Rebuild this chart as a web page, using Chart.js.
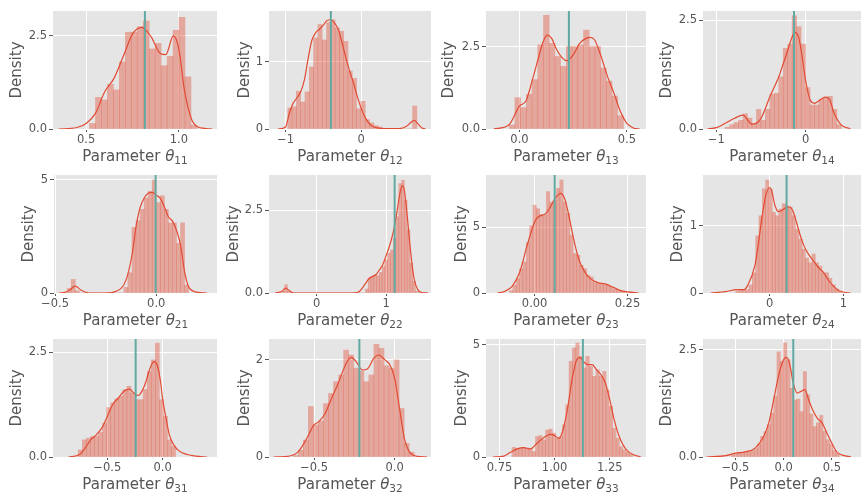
<!DOCTYPE html>
<html>
<head>
<meta charset="utf-8">
<script src="https://cdn.jsdelivr.net/npm/chart.js@4.4.0/dist/chart.umd.min.js"></script>
<style>
  html, body { margin: 0; padding: 0; background: #fff; overflow: hidden; }
  #wrap { position: relative; width: 863px; height: 492px; }
  canvas { position: absolute; }
</style>
</head>
<body>
<div id="wrap"></div>
<script>
// ---- data (bins = [first edge, width]) ----
const xRange11 = [0.321, 1.206], yMax11 = 3.17, truth11 = 0.817;
const bins11 = [0.518, 0.0322];
const hist11 = [0.15, 0.85, 0.78, 1.2, 1.05, 1.8, 2.6, 2.6, 2.75, 2.9, 2.15, 2.3, 1.7, 1.95, 2.65, 3.0, 1.4, 0.1];
const kdeX11 = [0.35, 0.45, 0.5, 0.55, 0.6, 0.65, 0.7, 0.75, 0.8, 0.85, 0.9, 0.93, 0.97, 1.0, 1.03, 1.07, 1.1, 1.15, 1.18];
const kdeY11 = [0, 0.04, 0.15, 0.42, 1.0, 1.36, 1.95, 2.55, 2.73, 2.48, 2.03, 2.0, 2.5, 2.15, 1.05, 0.24, 0.06, 0.01, 0];
const xTicks11 = [0.5, 1.0], xTickLabels11 = ['0.5', '1.0'];
const yTicks11 = [0, 2.5], yTickLabels11 = ['0.0', '2.5'];

const xRange12 = [-1.218, 0.924], yMax12 = 1.75, truth12 = -0.4;
const bins12 = [-0.97, 0.0569];
const hist12 = [0.31, 0.33, 0.56, 0.40, 0.55, 0.92, 1.35, 1.55, 1.32, 1.58, 1.62, 1.50, 1.45, 1.30, 0.86, 0.75, 0.30, 0.41, 0.14, 0.09, 0.05, 0.03, 0, 0, 0, 0, 0, 0, 0, 0.34];
const kdeX12 = [-1.1, -1.0, -0.95, -0.9, -0.85, -0.8, -0.75, -0.7, -0.65, -0.6, -0.55, -0.5, -0.45, -0.4, -0.35, -0.3, -0.25, -0.2, -0.15, -0.1, -0.05, 0, 0.05, 0.1, 0.15, 0.2, 0.3, 0.5, 0.6, 0.65, 0.7, 0.75, 0.8, 0.85];
const kdeY12 = [0, 0.03, 0.23, 0.38, 0.46, 0.55, 0.73, 1.05, 1.32, 1.43, 1.48, 1.54, 1.61, 1.62, 1.57, 1.47, 1.27, 1.05, 0.85, 0.68, 0.48, 0.31, 0.18, 0.09, 0.04, 0.02, 0.005, 0.005, 0.04, 0.09, 0.13, 0.08, 0.02, 0];
const xTicks12 = [-1, 0], xTickLabels12 = ['\u22121', '0'];
const yTicks12 = [0, 1], yTickLabels12 = ['0', '1'];

const xRange13 = [-0.156, 0.589], yMax13 = 3.58, truth13 = 0.23;
const bins13 = [-0.048, 0.0266];
const hist13 = [0.12, 0.95, 0.65, 1.05, 1.5, 2.55, 3.45, 2.6, 2.2, 1.9, 2.5, 2.5, 2.55, 3.0, 2.5, 2.5, 1.85, 1.45, 1.0, 0.4];
const kdeX13 = [-0.12, -0.05, 0, 0.03, 0.06, 0.09, 0.11, 0.13, 0.15, 0.17, 0.2, 0.22, 0.25, 0.28, 0.31, 0.33, 0.35, 0.38, 0.41, 0.44, 0.47, 0.5, 0.53, 0.56];
const kdeY13 = [0, 0.12, 0.7, 0.85, 1.49, 2.2, 2.65, 2.85, 2.75, 2.45, 2.15, 2.07, 2.25, 2.6, 2.75, 2.78, 2.7, 2.2, 1.59, 1.08, 0.53, 0.17, 0.03, 0];
const xTicks13 = [0, 0.5], xTickLabels13 = ['0.0', '0.5'];
const yTicks13 = [0, 2.5], yTickLabels13 = ['0.0', '2.5'];

const xRange14 = [-1.148, 0.62], yMax14 = 2.71, truth14 = -0.13;
const bins14 = [-0.9, 0.05];
const hist14 = [0.04, 0.10, 0.15, 0.20, 0.35, 0.25, 0.12, 0.45, 0.20, 0.45, 0.80, 0.82, 1.20, 1.85, 1.95, 2.60, 2.35, 1.95, 0.95, 0.55, 0.55, 0.68, 0.72, 0.75, 0.45, 0.10];
const kdeX14 = [-1.1, -1.0, -0.9, -0.8, -0.7, -0.6, -0.5, -0.4, -0.3, -0.25, -0.2, -0.15, -0.12, -0.08, -0.05, 0, 0.05, 0.1, 0.15, 0.22, 0.27, 0.32, 0.4, 0.5];
const kdeY14 = [0, 0.03, 0.13, 0.24, 0.32, 0.11, 0.24, 0.74, 1.2, 1.5, 1.81, 2.12, 2.22, 2.12, 1.81, 1.12, 0.67, 0.59, 0.65, 0.73, 0.67, 0.36, 0.09, 0.01];
const xTicks14 = [-1, 0], xTickLabels14 = ['\u22121', '0'];
const yTicks14 = [0, 2.5], yTickLabels14 = ['0.0', '2.5'];

const xRange21 = [-0.505, 0.30], yMax21 = 5.22, truth21 = -0.003;
const bins21 = [-0.44, 0.02];
const hist21 = [0.2, 0.6, 0.1, 0, 0, 0, 0, 0, 0, 0, 0, 0, 0, 0, 0.25, 0.9, 2.9, 3.2, 3.7, 4.2, 4.5, 5.0, 4.0, 4.3, 3.7, 3.1, 3.1, 2.2, 3.1, 0.35];
const kdeX21 = [-0.48, -0.45, -0.43, -0.4, -0.37, -0.33, -0.25, -0.2, -0.15, -0.12, -0.1, -0.08, -0.06, -0.04, -0.02, 0, 0.02, 0.04, 0.06, 0.08, 0.1, 0.12, 0.14, 0.16, 0.2, 0.25];
const kdeY21 = [0, 0.03, 0.12, 0.3, 0.12, 0, 0, 0.07, 0.56, 1.67, 2.93, 3.77, 4.19, 4.41, 4.45, 4.33, 4.19, 3.82, 3.37, 3.18, 2.78, 2.12, 0.93, 0.27, 0.04, 0];
const xTicks21 = [-0.5, 0], xTickLabels21 = ['\u22120.5', '0.0'];
const yTicks21 = [0, 5], yTickLabels21 = ['0', '5'];

const xRange22 = [-0.686, 1.643], yMax22 = 3.56, truth22 = 1.12;
const bins22 = [-0.5, 0.04];
const hist22 = [0.05, 0.25, 0.05, 0, 0, 0, 0, 0, 0, 0, 0, 0, 0, 0, 0, 0, 0, 0, 0, 0, 0, 0, 0, 0, 0, 0, 0, 0, 0, 0,
  0.12, 0.45, 0.5, 0.55, 0.52, 0.62, 0.8, 1.0, 1.2, 1.3, 1.65, 2.3, 3.3, 3.4, 2.8, 1.9, 0.9, 0.35, 0.05];
const kdeX22 = [-0.6, -0.5, -0.45, -0.4, -0.33, 0.5, 0.6, 0.7, 0.75, 0.8, 0.85, 0.9, 0.95, 1.0, 1.05, 1.1, 1.15, 1.2, 1.23, 1.26, 1.3, 1.35, 1.4, 1.45, 1.5, 1.6];
const kdeY22 = [0, 0.05, 0.15, 0.08, 0, 0, 0.03, 0.28, 0.43, 0.5, 0.55, 0.69, 0.86, 1.14, 1.44, 1.84, 2.4, 3.05, 3.24, 3.1, 2.35, 1.24, 0.43, 0.11, 0.02, 0];
const xTicks22 = [0, 1], xTickLabels22 = ['0', '1'];
const yTicks22 = [0, 2.5], yTickLabels22 = ['0.0', '2.5'];

const xRange23 = [-0.131, 0.30], yMax23 = 8.96, truth23 = 0.054;
const bins23 = [-0.0677, 0.00903];
const hist23 = [0.18, 0.6, 1.1, 1.85, 2.36, 3.83, 5.1, 6.67, 6.4, 5.96, 5.9, 7.7, 6.9, 7.05, 7.95, 8.58, 6.9, 6.04, 4.39, 3.0, 2.87, 2.1, 1.85, 1.35, 1.22, 0.84, 0.71, 0.71, 0.63, 0.58, 0.46, 0.28, 0.2, 0.13, 0.08];
const kdeX23 = [-0.1, -0.08, -0.06, -0.04, -0.02, 0, 0.01, 0.02, 0.03, 0.04, 0.05, 0.06, 0.07, 0.08, 0.09, 0.1, 0.11, 0.12, 0.13, 0.14, 0.15, 0.17, 0.19, 0.21, 0.23, 0.25, 0.28];
const kdeY23 = [0, 0.13, 0.53, 1.6, 3.63, 5.4, 5.79, 5.91, 6.04, 6.42, 6.93, 7.36, 7.56, 7.23, 6.17, 4.77, 3.5, 2.49, 1.85, 1.4, 1.09, 0.79, 0.69, 0.46, 0.2, 0.08, 0];
const xTicks23 = [0, 0.25], xTickLabels23 = ['0.00', '0.25'];
const yTicks23 = [0, 5], yTickLabels23 = ['0', '5'];

const xRange24 = [-0.905, 1.24], yMax24 = 1.756, truth24 = 0.23;
const bins24 = [-0.46, 0.045];
const hist24 = [0.03, 0.04, 0.05, 0.05, 0.12, 0.3, 0.85, 1.15, 1.55, 1.68, 1.55, 1.2, 1.15, 1.25, 1.33, 1.3, 1.28, 1.15, 0.95, 0.8, 0.65, 0.52, 0.45, 0.58, 0.45, 0.4, 0.3, 0.3, 0.22, 0.12, 0.06, 0.02];
const kdeX24 = [-0.8, -0.6, -0.45, -0.35, -0.3, -0.2, -0.15, -0.1, -0.05, 0, 0.03, 0.07, 0.12, 0.17, 0.22, 0.27, 0.32, 0.37, 0.42, 0.47, 0.52, 0.57, 0.62, 0.67, 0.72, 0.77, 0.82, 0.87, 0.92, 1.0, 1.1];
const kdeY24 = [0, 0.02, 0.05, 0.05, 0.11, 0.41, 0.76, 1.16, 1.46, 1.57, 1.51, 1.31, 1.21, 1.23, 1.27, 1.28, 1.21, 1.03, 0.84, 0.69, 0.59, 0.51, 0.44, 0.37, 0.32, 0.24, 0.16, 0.1, 0.05, 0.015, 0];
const xTicks24 = [0, 1], xTickLabels24 = ['0', '1'];
const yTicks24 = [0, 1], yTickLabels24 = ['0', '1'];

const xRange31 = [-0.99, 0.49], yMax31 = 2.82, truth31 = -0.244;
const bins31 = [-0.762, 0.0366];
const hist31 = [0.17, 0.41, 0.45, 0.49, 0.5, 0.59, 0.81, 1.18, 1.29, 1.39, 1.45, 1.61, 1.69, 1.53, 1.37, 1.37, 1.61, 2.04, 2.32, 2.72, 1.37, 0.97, 0.41, 0.25];
const kdeX31 = [-0.85, -0.75, -0.7, -0.65, -0.6, -0.55, -0.5, -0.45, -0.4, -0.35, -0.3, -0.25, -0.22, -0.18, -0.15, -0.12, -0.08, -0.05, -0.02, 0, 0.03, 0.06, 0.1, 0.15, 0.22, 0.3, 0.4];
const kdeY31 = [0, 0.06, 0.21, 0.41, 0.53, 0.69, 0.97, 1.26, 1.41, 1.57, 1.62, 1.5, 1.47, 1.61, 1.81, 2.08, 2.28, 2.2, 1.81, 1.37, 0.93, 0.53, 0.29, 0.14, 0.06, 0.02, 0];
const xTicks31 = [-0.5, 0], xTickLabels31 = ['\u22120.5', '0.0'];
const yTicks31 = [0, 2.5], yTickLabels31 = ['0.0', '2.5'];

const xRange32 = [-0.779, 0.225], yMax32 = 2.43, truth32 = -0.219;
const bins32 = [-0.629, 0.03125];
const hist32 = [0.03, 0.14, 0.35, 1.04, 0.66, 0.74, 1.1, 1.31, 1.55, 1.69, 2.2, 2.1, 1.83, 1.76, 1.55, 1.69, 2.32, 2.24, 1.88, 1.83, 2.0, 1.0, 0.28, 0.1];
const kdeX32 = [-0.75, -0.65, -0.6, -0.55, -0.5, -0.47, -0.43, -0.4, -0.35, -0.3, -0.27, -0.24, -0.2, -0.17, -0.13, -0.1, -0.06, -0.03, 0, 0.03, 0.06, 0.09, 0.13, 0.2];
const kdeY32 = [0, 0.02, 0.1, 0.35, 0.66, 0.73, 0.9, 1.14, 1.52, 1.93, 2.05, 1.97, 1.79, 1.81, 2.03, 2.1, 2.0, 1.9, 1.62, 1.0, 0.38, 0.11, 0.02, 0];
const xTicks32 = [-0.5, 0], xTickLabels32 = ['\u22120.5', '0.0'];
const yTicks32 = [0, 2], yTickLabels32 = ['0', '2'];

const xRange33 = [0.689, 1.414], yMax33 = 5.25, truth33 = 1.128;
const bins33 = [0.807, 0.0152];
const hist33 = [0.43, 0.39, 0.39, 0.42, 0.39, 0.39, 0.24, 0.91, 0.95, 0.76, 1.2, 1.24, 1.06, 0.83, 0.91, 1.43, 2.32, 4.26, 4.85, 5.07, 4.48, 3.96, 4.48, 4.03, 3.59, 3.88, 3.59, 3.81, 2.99, 2.25, 1.28, 0.83, 0.46, 0.31, 0.21, 0.12];
const kdeX33 = [0.72, 0.77, 0.8, 0.83, 0.86, 0.89, 0.92, 0.95, 0.98, 1.0, 1.02, 1.04, 1.06, 1.08, 1.1, 1.115, 1.13, 1.15, 1.17, 1.19, 1.21, 1.23, 1.25, 1.27, 1.29, 1.31, 1.33, 1.36, 1.39];
const kdeY33 = [0, 0.04, 0.21, 0.36, 0.42, 0.36, 0.61, 0.86, 1.01, 0.95, 0.83, 1.28, 2.25, 3.51, 4.33, 4.43, 4.26, 4.11, 4.11, 3.88, 3.66, 3.29, 2.54, 1.65, 0.98, 0.54, 0.27, 0.09, 0.01];
const xTicks33 = [0.75, 1.0, 1.25], xTickLabels33 = ['0.75', '1.00', '1.25'];
const yTicks33 = [0, 5], yTickLabels33 = ['0', '5'];

const xRange34 = [-0.836, 0.802], yMax34 = 2.75, truth34 = 0.10;
const bins34 = [-0.545, 0.034];
const hist34 = [0.05, 0.08, 0.1, 0.1, 0.12, 0.14, 0.15, 0.2, 0.3, 0.48, 0.59, 0.75, 1.02, 1.41, 2.45, 2.23, 2.66, 2.27, 1.6, 1.33, 1.35, 1.06, 1.99, 1.45, 1.0, 0.71, 0.8, 0.97, 0.6, 0.4, 0.3, 0.15, 0.08];
const kdeX34 = [-0.8, -0.6, -0.5, -0.4, -0.3, -0.2, -0.15, -0.1, -0.05, 0, 0.03, 0.06, 0.1, 0.14, 0.18, 0.22, 0.26, 0.3, 0.35, 0.4, 0.45, 0.5, 0.55, 0.6, 0.7];
const kdeY34 = [0, 0.03, 0.09, 0.12, 0.2, 0.51, 0.83, 1.37, 1.92, 2.27, 2.32, 2.19, 1.72, 1.49, 1.53, 1.57, 1.33, 1.1, 0.9, 0.79, 0.55, 0.32, 0.12, 0.05, 0];
const xTicks34 = [-0.5, 0, 0.5], xTickLabels34 = ['\u22120.5', '0.0', '0.5'];
const yTicks34 = [0, 2.5], yTickLabels34 = ['0.0', '2.5'];

// ---- panel grid (pixel frame of each plot area) ----
const cellLeft = [0, 215, 430, 645];
const plotLeft = [[53, 269, 486, 703], [54, 269, 486, 703], [53, 269, 486, 703]];
const plotRight = [217, 431, 646, 861];
const plotTop = [11, 175, 339];
const plotBottom = [129, 293, 457];
const densityX = [[17, 245, 449, 667], [29, 234, 462, 678], [17, 245, 462, 667]];

const panels = [
  ['11', xRange11, yMax11, truth11, bins11, hist11, kdeX11, kdeY11, xTicks11, xTickLabels11, yTicks11, yTickLabels11],
  ['12', xRange12, yMax12, truth12, bins12, hist12, kdeX12, kdeY12, xTicks12, xTickLabels12, yTicks12, yTickLabels12],
  ['13', xRange13, yMax13, truth13, bins13, hist13, kdeX13, kdeY13, xTicks13, xTickLabels13, yTicks13, yTickLabels13],
  ['14', xRange14, yMax14, truth14, bins14, hist14, kdeX14, kdeY14, xTicks14, xTickLabels14, yTicks14, yTickLabels14],
  ['21', xRange21, yMax21, truth21, bins21, hist21, kdeX21, kdeY21, xTicks21, xTickLabels21, yTicks21, yTickLabels21],
  ['22', xRange22, yMax22, truth22, bins22, hist22, kdeX22, kdeY22, xTicks22, xTickLabels22, yTicks22, yTickLabels22],
  ['23', xRange23, yMax23, truth23, bins23, hist23, kdeX23, kdeY23, xTicks23, xTickLabels23, yTicks23, yTickLabels23],
  ['24', xRange24, yMax24, truth24, bins24, hist24, kdeX24, kdeY24, xTicks24, xTickLabels24, yTicks24, yTickLabels24],
  ['31', xRange31, yMax31, truth31, bins31, hist31, kdeX31, kdeY31, xTicks31, xTickLabels31, yTicks31, yTickLabels31],
  ['32', xRange32, yMax32, truth32, bins32, hist32, kdeX32, kdeY32, xTicks32, xTickLabels32, yTicks32, yTickLabels32],
  ['33', xRange33, yMax33, truth33, bins33, hist33, kdeX33, kdeY33, xTicks33, xTickLabels33, yTicks33, yTickLabels33],
  ['34', xRange34, yMax34, truth34, bins34, hist34, kdeX34, kdeY34, xTicks34, xTickLabels34, yTicks34, yTickLabels34]
];

Chart.defaults.font.family = '"DejaVu Sans", sans-serif';
const TEXT = '#555555';
const PANEL_BG = '#E5E5E5';
const BAR = 'rgba(226, 74, 51, 0.4)';
const KDE = '#E24A33';
const TRUTH = '#62A9A2';
const SUB = {'1': '1', '2': '2', '3': '3', '4': '4'};

function drawPanel(p, idx) {
  const [id, xRange, yMax, truth, bins, hist, kdeX, kdeY, xTicks, xLabels, yTicks, yLabels] = p;
  const row = Math.floor(idx / 4), col = idx % 4;
  const left = cellLeft[col];
  const l = plotLeft[row][col], r = plotRight[col], t = plotTop[row], b = plotBottom[row];
  const w = r - left + 2, h = b - t + 44;

  const canvas = document.createElement('canvas');
  canvas.width = w; canvas.height = h;
  canvas.style.left = left + 'px';
  canvas.style.top = (t - 8) + 'px';
  canvas.style.width = w + 'px';
  canvas.style.height = h + 'px';
  document.getElementById('wrap').appendChild(canvas);

  const labelPlugin = {
    id: 'labels' + id,
    beforeDraw(chart) {
      const a = chart.chartArea, ctx = chart.ctx;
      ctx.save();
      ctx.fillStyle = PANEL_BG;
      ctx.fillRect(a.left, a.top, a.right - a.left, a.bottom - a.top);
      ctx.restore();
    },
    afterDraw(chart) {
      const a = chart.chartArea, ctx = chart.ctx;
      ctx.save();
      ctx.fillStyle = TEXT;
      // y label
      ctx.translate(densityX[row][col] - left, (a.top + a.bottom) / 2);
      ctx.rotate(-Math.PI / 2);
      ctx.font = '15px "DejaVu Sans"';
      ctx.textAlign = 'center';
      ctx.textBaseline = 'middle';
      ctx.fillText('Density', 0, 0);
      ctx.restore();

      // x label: Parameter θ_id
      ctx.save();
      ctx.fillStyle = TEXT;
      ctx.textBaseline = 'alphabetic';
      ctx.textAlign = 'left';
      const main = 'Parameter ';
      const fMain = '15px "DejaVu Sans"', fTheta = 'italic 15px "DejaVu Sans"', fSub = '10.5px "DejaVu Sans"';
      ctx.font = fMain; const w1 = ctx.measureText(main).width;
      ctx.font = fTheta; const w2 = ctx.measureText('\u03B8').width;
      ctx.font = fSub; const w3 = ctx.measureText(id).width;
      let x = (a.left + a.right) / 2 - (w1 + w2 + w3) / 2;
      const y = a.bottom + 32;
      ctx.font = fMain; ctx.fillText(main, x, y); x += w1;
      ctx.font = fTheta; ctx.fillText('\u03B8', x, y); x += w2;
      ctx.font = fSub; ctx.fillText(id, x, y + 3);
      ctx.restore();
    }
  };

  new Chart(canvas, {
    type: 'bar',
    data: {
      datasets: [
        {
          type: 'line',
          data: [{x: truth, y: 0}, {x: truth, y: yMax}],
          borderColor: TRUTH,
          borderWidth: 2,
          pointRadius: 0,
          order: 1
        },
        {
          type: 'line',
          data: kdeX.map((x, i) => ({x, y: kdeY[i]})),
          borderColor: KDE,
          borderWidth: 1.2,
          pointRadius: 0,
          cubicInterpolationMode: 'monotone',
          fill: false,
          order: 2
        },
        {
          type: 'bar',
          data: hist.map((v, i) => ({x: bins[0] + (i + 0.5) * bins[1], y: v})),
          backgroundColor: BAR,
          borderWidth: 0,
          barPercentage: 1,
          categoryPercentage: 1,
          order: 3
        }
      ]
    },
    options: {
      responsive: false,
      animation: false,
      events: [],
      layout: {padding: {left: 0, top: 8, right: 2, bottom: 0}},
      plugins: {legend: {display: false}, tooltip: {enabled: false}},
      scales: {
        x: {
          type: 'linear',
          min: xRange[0],
          max: xRange[1],
          offset: false,
          afterBuildTicks: s => { s.ticks = xTicks.map(v => ({value: v})); },
          afterFit: s => { s.height = 36; s.paddingLeft = 0; s.paddingRight = 0; },
          ticks: {
            callback: (v, i) => xLabels[i],
            color: TEXT,
            font: {size: 11.5},
            padding: 1,
            maxRotation: 0,
            minRotation: 0,
            autoSkip: false
          },
          grid: {offset: false, color: '#ffffff', lineWidth: 1, tickColor: TEXT, tickLength: 3},
          border: {display: false}
        },
        y: {
          type: 'linear',
          min: 0,
          max: yMax,
          afterBuildTicks: s => { s.ticks = yTicks.map(v => ({value: v})); },
          afterFit: s => { s.width = l - left; s.paddingTop = 0; s.paddingBottom = 0; },
          ticks: {
            callback: (v, i) => yLabels[i],
            color: TEXT,
            font: {size: 11.5},
            padding: 2,
            autoSkip: false
          },
          grid: {color: '#ffffff', lineWidth: 1, tickColor: TEXT, tickLength: 4},
          border: {display: false}
        }
      }
    },
    plugins: [labelPlugin]
  });
}

panels.forEach(drawPanel);
</script>
</body>
</html>
